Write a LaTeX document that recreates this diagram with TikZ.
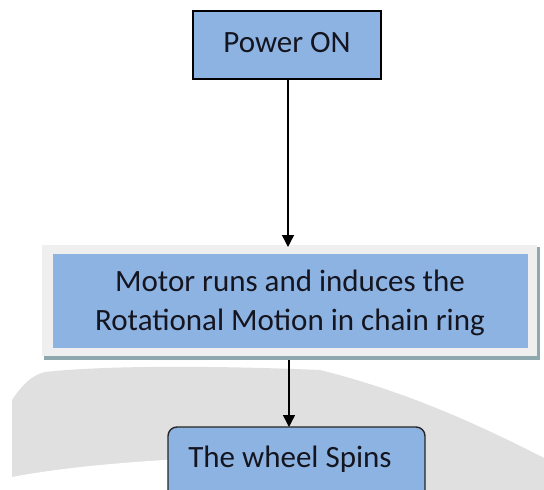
\documentclass[tikz,border=0pt]{standalone}
\usepackage{fontspec}
\setmainfont{Carlito}
\usetikzlibrary{arrows.meta,positioning}
\definecolor{boxblue}{HTML}{8DB3E2}
\definecolor{txt}{HTML}{15151F}
\definecolor{bggray}{HTML}{E0E0E0}
\definecolor{panel}{HTML}{EFEFEF}
\definecolor{shadowc}{HTML}{8FA8AE}
\tikzset{
  lbl/.style={font=\fontsize{31}{40}\selectfont, text=txt, align=center, inner sep=0pt},
  sqbox/.style={draw=black, line width=1.4pt, fill=boxblue},
  rdbox/.style={draw=black!85, line width=1.4pt, fill=boxblue, rounded corners=9pt},
  conn/.style={line width=1.4pt, -{Triangle[length=12pt,width=12pt]}},
}
\begin{document}
\begin{tikzpicture}[x=1pt,y=-1pt]
\useasboundingbox (0,0) rectangle (544,490);
\fill[white] (0,0) rectangle (544,490);
% background swoosh
\fill[bggray] (12,490) -- (12,400) .. controls (22,385) and (32,375) .. (45,372)
  .. controls (100,366) and (200,365) .. (320,370) .. controls (400,390) and (470,420) .. (544,458) -- (544,490) -- cycle;
\fill[white] (12,490) -- (12,477) .. controls (60,468) and (120,462) .. (200,458) -- (200,490) -- cycle;
% Power ON
\path[sqbox] (193,11) rectangle (381,79);
\node[lbl] (p) at (287,43) {Power ON};
\coordinate (pb) at (288,79);
% Motor panel
\fill[shadowc] (44,247) rectangle (540,360);
\fill[panel] (42,245) rectangle (537,356);
\fill[boxblue] (53,254) rectangle (528,348);
\coordinate (mt) at (288,247);
\coordinate (mb) at (289,360);
\node[lbl] (m1) at (290,281) {Motor runs and induces the};
\node[lbl] (m2) at (290,322) {Rotational Motion in chain ring};
% Wheel box
\path[rdbox] (168,427) rectangle (425,500);
\coordinate (wt) at (289,427);
\node[lbl] (w) at (290,459) {The wheel Spins};
% connectors
\draw[conn] (pb) -- (mt);
\draw[conn] (mb) -- (wt);
\end{tikzpicture}
\end{document}
